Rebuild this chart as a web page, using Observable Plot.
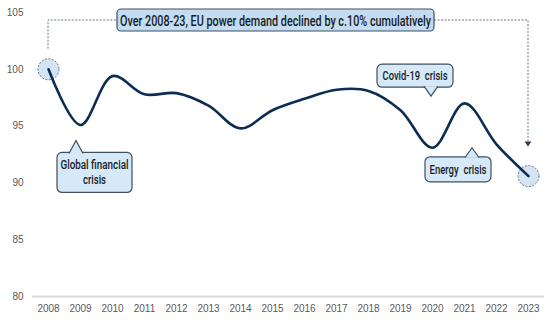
<!DOCTYPE html>
<html><head><meta charset="utf-8">
<script src="https://cdn.jsdelivr.net/npm/d3@7"></script>
<script src="https://cdn.jsdelivr.net/npm/@observablehq/plot@0.6"></script>
<style>body{margin:0;background:#fff} svg{display:block}</style>
</head><body><div id="chart"></div>
<script>
// ---- data ----
const years = [2008,2009,2010,2011,2012,2013,2014,2015,2016,2017,2018,2019,2020,2021,2022,2023];
const demand = [100,95.1,99.4,97.8,97.9,96.8,94.8,96.4,97.4,98.2,98.1,96.4,93.1,97.0,93.4,90.6];
const yTicks = [80,85,90,95,100,105];
const titleText = "Over 2008-23, EU power demand declined by c.10% cumulatively";
const noteTexts = [["Global financial","crisis"],["Covid-19  crisis"],["Energy  crisis"]];
const noteYears = [2009, 2020, 2022];

// ---- layout (pixels, relative to anchors) ----
const noteLayout = [
  {dx:-4, dy:16, left:-19, w:75, h:40, gap:12, side:"top", lens:[68,23]},
  {dx:-1, dy:-51, left:-54, w:76, h:23, gap:9, side:"bottom", lens:[65]},
  {dx:-24, dy:4, left:-47, w:66, h:25, gap:9, side:"top", lens:[57]}
];

const data = years.map((year,i)=>({year, value: demand[i]}));
const ends = [data[0], data[data.length-1]];

const plot = Plot.plot({
  width:554, height:323,
  marginLeft:32, marginRight:10, marginTop:12, marginBottom:27,
  style:{fontFamily:"'Liberation Sans', sans-serif", fontSize:"10px", color:"#595959", background:"#fff", overflow:"visible"},
  x:{domain:[2007.5,2023.5], ticks:years, tickFormat:d=>String(d), tickSize:0, tickPadding:8, label:null},
  y:{domain:[80,105], ticks:yTicks, tickSize:0, tickPadding:9, label:null},
  marks:[
    Plot.ruleY([80], {stroke:"#d9d9d9", strokeWidth:2}),
    Plot.dot(ends, {x:"year", y:"value", r:10.5, fill:"#d3e5f5", stroke:"#5d6b78", strokeWidth:1, strokeDasharray:"2,1.5"}),
    Plot.line(data, {x:"year", y:"value", curve:"catmull-rom", stroke:"#0c2d52", strokeWidth:2.6})
  ]
});
document.getElementById("chart").appendChild(plot);

// ---- annotations ----
const X = plot.scale("x"), Y = plot.scale("y");
const sx = v => X.apply(v), sy = v => Y.apply(v);
const svg = d3.select(plot);
const g = svg.append("g").attr("font-family","Roboto, sans-serif").attr("font-weight",500).attr("fill","#161c24");
const border = "#3f4f5f";
const dashCol = "#66778a";

// connector
const x0 = sx(years[0]), x1 = sx(years[years.length-1]);
const boxTop = sy(105) - 3, boxH = 22, boxMid = boxTop + boxH/2;
const boxLeft = x0 + 69, boxW = 317;
const startY = sy(demand[0]) - 20;
const endY = sy(demand[demand.length-1]) - 29;
g.append("path")
  .attr("d", `M${x0},${startY}V${boxMid}H${boxLeft}`)
  .attr("fill","none").attr("stroke",dashCol).attr("stroke-width",1).attr("stroke-dasharray","2,1.5");
g.append("path")
  .attr("d", `M${boxLeft+boxW},${boxMid}H${x1}V${endY-4}`)
  .attr("fill","none").attr("stroke",dashCol).attr("stroke-width",1).attr("stroke-dasharray","2,1.5");
g.append("path")
  .attr("d", `M${x1-3.5},${endY-5}L${x1+3.5},${endY-5}L${x1},${endY}Z`)
  .attr("fill","#2e3e50");

// title box
g.append("rect").attr("x",boxLeft).attr("y",boxTop).attr("width",boxW).attr("height",boxH)
  .attr("rx",4).attr("fill","#c3dcf1").attr("stroke",border).attr("stroke-width",1.2);
g.append("text").attr("x",boxLeft+boxW/2).attr("y",boxMid+0.5)
  .attr("text-anchor","middle").attr("dominant-baseline","central")
  .attr("font-size",14).attr("textLength",311).attr("lengthAdjust","spacingAndGlyphs")
  .text(titleText);

// callouts
noteTexts.forEach((lines,i)=>{
  const L = noteLayout[i];
  const yr = noteYears[i];
  const tipX = sx(yr) + L.dx;
  const tipY = sy(demand[years.indexOf(yr)]) + L.dy;
  const left = tipX + L.left;
  const top = L.side === "top" ? tipY + L.gap : tipY - L.gap - L.h;
  g.append("rect").attr("x",left).attr("y",top).attr("width",L.w).attr("height",L.h)
    .attr("rx",5).attr("fill","#d6e9f9").attr("stroke",border).attr("stroke-width",1.2);
  const baseY = L.side === "top" ? top + 1 : top + L.h - 1;
  g.append("path")
    .attr("d", `M${tipX-7},${baseY}L${tipX},${tipY}L${tipX+7},${baseY}`)
    .attr("fill","#d6e9f9").attr("stroke",border).attr("stroke-width",1.2);
  const cx = left + L.w/2;
  const lh = 15;
  const y0 = top + L.h/2 - (lines.length-1)*lh/2;
  lines.forEach((t,j)=>{
    g.append("text").attr("x",cx).attr("y",y0 + j*lh + 0.5)
      .attr("text-anchor","middle").attr("dominant-baseline","central")
      .attr("font-size",12).attr("textLength",L.lens[j]).attr("lengthAdjust","spacingAndGlyphs")
      .text(t);
  });
});
</script>
</body></html>
